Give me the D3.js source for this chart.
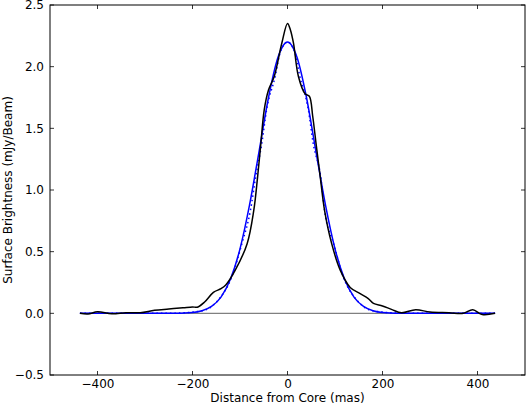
<!DOCTYPE html>
<html><head><meta charset="utf-8">
<script src="https://cdn.jsdelivr.net/npm/d3@7"></script>
<style>body{margin:0;background:#fff}text{font-family:"DejaVu Sans";}</style>
</head><body><svg id="c" width="526" height="405"></svg>
<script>
const obsX=[-437,-420,-400,-370,-340,-310,-280,-250,-220,-200,-190,-175,-156,-140,-130,-110,-85,-71,-63,-56,-49,-40,-28,-12,0,6,12.6,23,37,46,53,60,69,78,93,111,132,153,170,181,200,220,240,270,300,340,370,390,410,437];
const obsY=[0,-0.005,0.012,-0.003,0.005,0.005,0.025,0.035,0.045,0.052,0.05,0.09,0.17,0.2,0.23,0.35,0.565,0.835,1.105,1.38,1.65,1.81,1.92,2.19,2.35,2.3,2.19,1.92,1.78,1.76,1.6,1.38,1.105,0.835,0.565,0.35,0.21,0.16,0.12,0.08,0.06,0.03,0.005,0.03,0.01,0.005,0,0.03,-0.01,0];
const gX=[-437,-250,-200,-180,-160,-140,-120,-100,-80,-60,-40,-20,0,20,40,60,80,100,120,140,160,180,200,250,437];
const gY=[0,0,0.007,0.021,0.056,0.132,0.278,0.523,0.877,1.31,1.75,2.077,2.2,2.077,1.75,1.31,0.877,0.523,0.278,0.132,0.056,0.021,0.007,0,0];
const dX=[-437,-250,-180,-150,-117,-96,-78,-67,-54,-44,-26,-15,0,15,26,44,54,70,78,97,117,150,180,250,437];
const dY=[0,0,0.02,0.09,0.3,0.565,0.835,1.105,1.38,1.65,1.92,2.12,2.2,2.12,1.92,1.65,1.38,1.105,0.835,0.565,0.3,0.09,0.02,0,0];
const xTicks=[-400,-200,0,200,400];
const yTicks=[-0.5,0,0.5,1,1.5,2,2.5];
const svg=d3.select("#c");
const x=d3.scaleLinear().domain([-500,500]).range([50,525]);
const y=d3.scaleLinear().domain([-0.5,2.5]).range([375,5]);
const fmt=d3.format(".1f");
const minus=s=>s.replace("-","\u2212");
svg.append("g").attr("transform","translate(0,375)").call(d3.axisBottom(x).tickValues(xTicks).tickSize(0).tickPadding(4).tickFormat(d=>minus(String(d))))
 .call(g=>{g.select(".domain").remove();g.selectAll("text").attr("font-size",12).attr("font-family","DejaVu Sans").attr("fill","#000");});
svg.append("g").attr("transform","translate(50,0)").call(d3.axisLeft(y).tickValues(yTicks).tickSize(0).tickPadding(6).tickFormat(d=>minus(fmt(d))))
 .call(g=>{g.select(".domain").remove();g.selectAll("text").attr("font-size",12).attr("font-family","DejaVu Sans").attr("fill","#000");});
const tk=svg.append("g").attr("stroke","#000").attr("stroke-width",0.8);
xTicks.forEach(v=>{tk.append("line").attr("x1",x(v)).attr("x2",x(v)).attr("y1",375).attr("y2",371);tk.append("line").attr("x1",x(v)).attr("x2",x(v)).attr("y1",5).attr("y2",9);});
yTicks.forEach(v=>{tk.append("line").attr("x1",50).attr("x2",54).attr("y1",y(v)).attr("y2",y(v));tk.append("line").attr("x1",525).attr("x2",521).attr("y1",y(v)).attr("y2",y(v));});
svg.append("line").attr("x1",x(-437)).attr("x2",x(437)).attr("y1",y(0)).attr("y2",y(0)).attr("stroke","#808080").attr("stroke-width",1.2);
const line=(xs,ys,c)=>d3.line().x((d,i)=>x(xs[i])).y((d,i)=>y(ys[i])).curve(c||d3.curveMonotoneX)(xs);
svg.append("path").attr("d",line(gX,gY)).attr("fill","none").attr("stroke","#0000ff").attr("stroke-width",1.5);
svg.append("path").attr("d",line(dX,dY)).attr("fill","none").attr("stroke","#0000ff").attr("stroke-width",1.5).attr("stroke-dasharray","1.5,3");
svg.append("path").attr("d",line(obsX,obsY,d3.curveCatmullRom)).attr("fill","none").attr("stroke","#000").attr("stroke-width",1.5);
svg.append("rect").attr("x",50).attr("y",5).attr("width",475).attr("height",370).attr("fill","none").attr("stroke","#000").attr("stroke-width",1);
svg.append("text").attr("x",287.5).attr("y",402).attr("text-anchor","middle").attr("font-size",12).text("Distance from Core (mas)");
svg.append("text").attr("transform","translate(12,190) rotate(-90)").attr("text-anchor","middle").attr("font-size",12).text("Surface Brightness (mJy/Beam)");
</script></body></html>
